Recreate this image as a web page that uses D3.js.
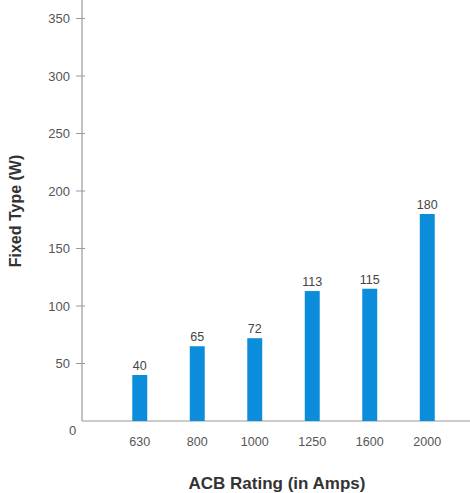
<!DOCTYPE html>
<html><head><meta charset="utf-8">
<script src="https://cdn.jsdelivr.net/npm/d3@7"></script>
<style>body{margin:0;background:#fff;}svg{display:block;}</style>
</head><body>
<script>
const categories = ["630","800","1000","1250","1600","2000"];
const values = [40,65,72,113,115,180];
const yTicks = [50,100,150,200,250,300,350];
const xTitle = "ACB Rating (in Amps)";
const yTitle = "Fixed Type (W)";

const W = 470, H = 493;
const FONT = "Liberation Sans, Arial, sans-serif";
const svg = d3.select("body").append("svg").attr("width", W).attr("height", H);
const x0 = 82, xEnd = 470, yBase = 421;
const y = d3.scaleLinear().domain([0,350]).range([yBase, 18.5]);
const x = d3.scaleBand().domain(categories).range([111, 456]).paddingInner(0.74).paddingOuter(0.37);

const axisColor = "#9a9a9a", textColor = "#555";
svg.append("line").attr("x1",x0).attr("x2",x0).attr("y1",0).attr("y2",yBase).attr("stroke",axisColor).attr("stroke-width",1.2);
svg.append("line").attr("x1",x0).attr("x2",xEnd).attr("y1",yBase).attr("y2",yBase).attr("stroke",axisColor).attr("stroke-width",1.2);

const yt = svg.append("g");
yTicks.forEach(t => {
  yt.append("line").attr("x1",x0-6).attr("x2",x0+3).attr("y1",y(t)).attr("y2",y(t)).attr("stroke",axisColor).attr("stroke-width",1);
  yt.append("text").attr("x",x0-12).attr("y",y(t)).attr("dy","0.35em").attr("text-anchor","end")
    .attr("font-family",FONT).attr("font-size",13).attr("fill",textColor).text(t);
});
svg.append("text").attr("x",72.5).attr("y",y(0)+9).attr("dy","0.35em").attr("text-anchor","middle")
  .attr("font-family",FONT).attr("font-size",13).attr("fill",textColor).text(0);

svg.selectAll("rect.bar").data(values).enter().append("rect")
  .attr("class","bar")
  .attr("x",(d,i)=>x(categories[i]))
  .attr("width",x.bandwidth())
  .attr("y",d=>y(d))
  .attr("height",d=>yBase-y(d))
  .attr("fill","#0b8ddb");

svg.selectAll("text.val").data(values).enter().append("text")
  .attr("class","val")
  .attr("x",(d,i)=>x(categories[i])+x.bandwidth()/2)
  .attr("y",d=>y(d)-5)
  .attr("text-anchor","middle")
  .attr("font-family",FONT).attr("font-size",12.5).attr("fill","#444")
  .text(d=>d);

svg.selectAll("text.xl").data(categories).enter().append("text")
  .attr("class","xl")
  .attr("x",d=>x(d)+x.bandwidth()/2)
  .attr("y",446)
  .attr("text-anchor","middle")
  .attr("font-family",FONT).attr("font-size",12.5).attr("fill",textColor)
  .text(d=>d);

svg.append("text").attr("x",277).attr("y",489).attr("text-anchor","middle")
  .attr("font-family",FONT).attr("font-size",17).attr("font-weight","bold").attr("fill","#333")
  .text(xTitle);
svg.append("text").attr("transform","translate(21,211) rotate(-90)").attr("text-anchor","middle")
  .attr("font-family",FONT).attr("font-size",16).attr("font-weight","bold").attr("fill","#333")
  .text(yTitle);
</script>
</body></html>
